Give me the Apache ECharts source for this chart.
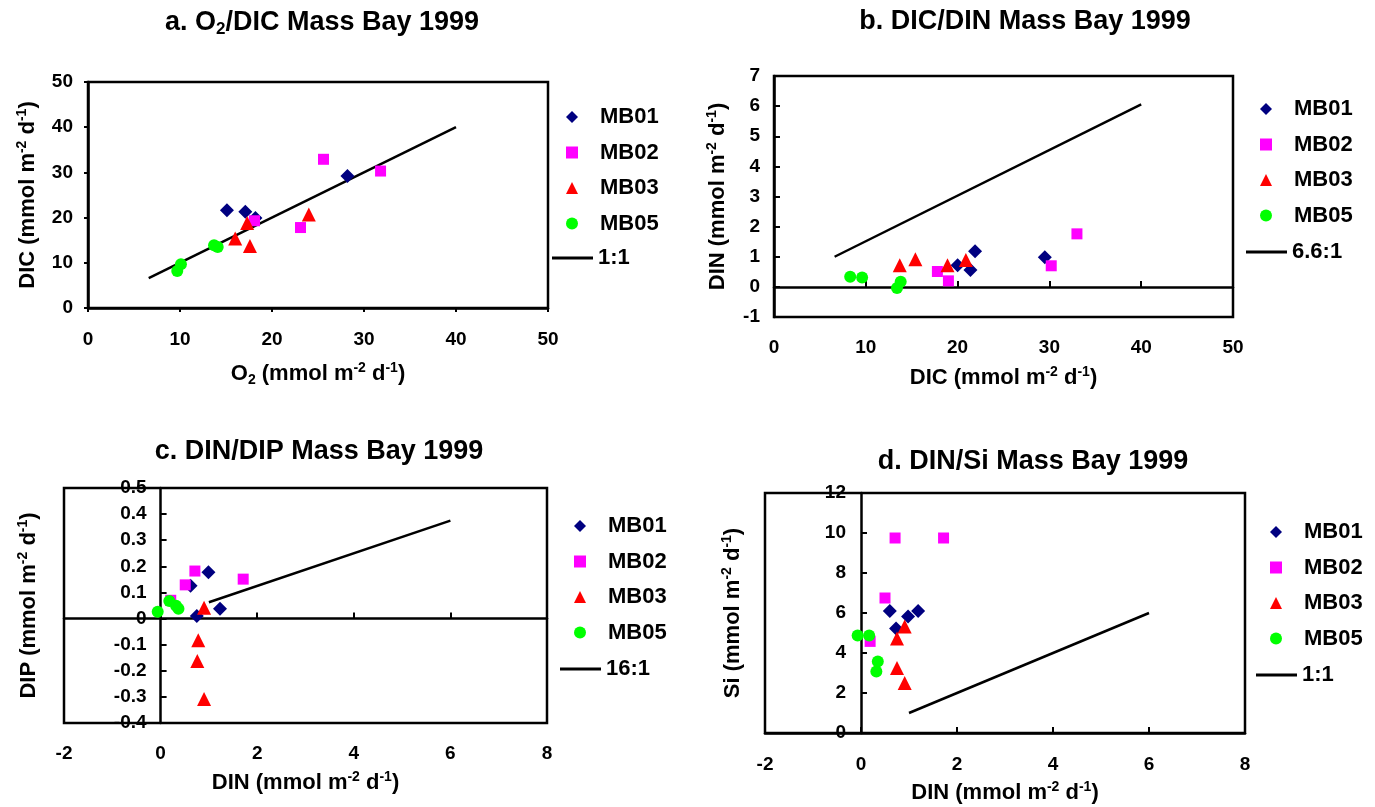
<!DOCTYPE html>
<html>
<head>
<meta charset="utf-8">
<title>Mass Bay 1999</title>
<script src="https://cdn.jsdelivr.net/npm/echarts@6/dist/echarts.min.js"></script>
<style>
    html, body { margin: 0; padding: 0; background: #fff; }
    #chart { width: 1375px; height: 807px; }
</style>
</head>
<body>
<div id="chart"></div>
<script>
! function() {
    'use strict'

    // stations in legend order
    var stations = ['MB01', 'MB02', 'MB03', 'MB05'];

    // a. O2 (x) / DIC (y)
    var aMB01 = [[15.1, 21.6], [17.1, 21.3], [18.2, 19.9], [28.2, 29.2]];
    var aMB02 = [[25.6, 32.9], [31.8, 30.3], [23.1, 17.8], [18.1, 19.3]];
    var aMB03 = [[17.3, 18.8], [16.0, 15.4], [17.6, 13.7], [24.0, 20.7]];
    var aMB05 = [[9.7, 8.2], [10.1, 9.7], [13.7, 13.9], [14.1, 13.5]];
    var aRatio = [[6.6, 6.6], [40, 40]];          // 1:1

    // b. DIC (x) / DIN (y)
    var bMB01 = [[20.0, 0.72], [21.4, 0.56], [21.9, 1.18], [29.5, 0.98]];
    var bMB02 = [[17.8, 0.51], [19.0, 0.20], [30.2, 0.70], [33.0, 1.76]];
    var bMB03 = [[13.7, 0.72], [15.4, 0.92], [18.9, 0.72], [20.9, 0.89]];
    var bMB05 = [[8.3, 0.34], [9.6, 0.31], [13.4, -0.04], [13.8, 0.17]];
    var bRatio = [[6.6, 1.0], [40, 6.06]];         // 6.6:1

    // c. DIN (x) / DIP (y)
    var cMB01 = [[0.62, 0.126], [0.99, 0.177], [1.23, 0.038], [0.75, 0.010]];
    var cMB02 = [[0.51, 0.129], [0.71, 0.182], [1.71, 0.151], [0.21, 0.070]];
    var cMB03 = [[0.90, 0.041], [0.78, -0.083], [0.76, -0.163], [0.90, -0.308]];
    var cMB05 = [[-0.06, 0.026], [0.18, 0.067], [0.32, 0.049], [0.37, 0.038]];
    var cRatio = [[1, 0.0625], [6, 0.375]];        // 16:1

    // d. DIN (x) / Si (y)
    var dMB01 = [[0.60, 6.10], [0.73, 5.23], [0.98, 5.83], [1.19, 6.10]];
    var dMB02 = [[0.71, 9.75], [1.72, 9.75], [0.50, 6.75], [0.19, 4.58]];
    var dMB03 = [[0.91, 5.33], [0.75, 4.72], [0.75, 3.25], [0.91, 2.50]];
    var dMB05 = [[-0.07, 4.88], [0.17, 4.88], [0.35, 3.58], [0.32, 3.08]];
    var dRatio = [[1, 1], [6, 6]];                 // 1:1

    var FONT = '"Liberation Sans", Arial, sans-serif';

    var markerStyle = {
        MB01: { symbol: 'diamond', size: 14, color: '#000080' },
        MB02: { symbol: 'rect', size: 11, color: '#FF00FF' },
        MB03: { symbol: 'triangle', size: 14, color: '#FF0000' },
        MB05: { symbol: 'circle', size: 12, color: '#00FF00' }
    };

    // plot frames: left, top, width, height
    var frames = [
        [88, 82, 460, 226],
        [774, 76, 459, 241],
        [64, 488, 483, 235],
        [765, 493, 480, 240]
    ];

    var nameRich = {
        n: { fontSize: 22, fontWeight: 'bold', fontFamily: FONT, lineHeight: 26, color: '#000' },
        sup: { fontSize: 14, fontWeight: 'bold', fontFamily: FONT, lineHeight: 14, verticalAlign: 'top', color: '#000' },
        sub: { fontSize: 14, fontWeight: 'bold', fontFamily: FONT, lineHeight: 14, verticalAlign: 'bottom', color: '#000' }
    };

    function unitName(label) {
        return '{n|' + label + ' (mmol m}{sup|-2}{n| d}{sup|-1}{n|)}';
    }

    // value axis, o: grid, min, max, step, pos, line, onZero, offset, ticks, tickIn, labels, margin, name, gap
    function axis(o) {
        return {
            type: 'value',
            gridIndex: o.grid,
            position: o.pos,
            offset: o.offset || 0,
            min: o.min,
            max: o.max,
            interval: o.step,
            splitLine: { show: false },
            axisLine: {
                show: o.line !== false,
                onZero: !!o.onZero,
                lineStyle: { color: '#000', width: 2.5 }
            },
            axisTick: {
                show: o.ticks !== false,
                inside: o.tickIn !== false,
                length: o.tickIn === false ? 4 : 6,
                lineStyle: { color: '#000', width: 2 }
            },
            axisLabel: {
                show: o.labels !== false,
                margin: o.margin || 15,
                color: '#000',
                fontSize: 19,
                fontWeight: 'bold',
                fontFamily: FONT,
                showMinLabel: true,
                showMaxLabel: true
            },
            name: o.name || '',
            nameLocation: 'middle',
            nameGap: o.gap || 0,
            nameMoveOverlap: false,
            nameTextStyle: { rich: nameRich }
        };
    }

    // y axis drawn at x = 0 of a panel whose x range is [xMin, xMax]
    function zeroOffset(gridIndex, xMin, xMax) {
        return -(0 - xMin) / (xMax - xMin) * frames[gridIndex][2];
    }

    function scatter(name, data, xi, yi) {
        var s = markerStyle[name];
        return {
            type: 'scatter',
            name: name,
            data: data,
            xAxisIndex: xi,
            yAxisIndex: yi,
            symbol: s.symbol,
            symbolSize: s.size,
            itemStyle: { color: s.color, opacity: 1 },
            z: 3
        };
    }

    function ratioLine(name, data, xi, yi) {
        return {
            type: 'line',
            name: name,
            data: data,
            xAxisIndex: xi,
            yAxisIndex: yi,
            symbol: 'none',
            lineStyle: { color: '#000', width: 2.5 },
            itemStyle: { color: '#000' },
            z: 2
        };
    }

    function panelSeries(list, ratioName, ratio, xi, yi) {
        var out = [ratioLine(ratioName, ratio, xi, yi)];
        for (var i = 0; i < stations.length; i++) {
            out.push(scatter(stations[i], list[i], xi, yi));
        }
        return out;
    }

    var legendText = { fontSize: 22, fontWeight: 'bold', fontFamily: FONT, color: '#000', lineHeight: 22 };

    function markerLegend(left, top) {
        return {
            data: stations,
            orient: 'vertical',
            left: left,
            top: top,
            padding: 0,
            itemWidth: 12,
            itemHeight: 12,
            itemGap: 13.5,
            selectedMode: false,
            textStyle: Object.assign({ padding: [0, 0, 0, 17] }, legendText)
        };
    }

    function lineLegend(name, left, top) {
        return {
            data: [{ name: name, icon: 'rect' }],
            left: left,
            top: top,
            padding: 0,
            itemWidth: 41,
            itemHeight: 3,
            symbolKeepAspect: false,
            selectedMode: false,
            textStyle: legendText
        };
    }

    var titleStyle = {
        fontSize: 27, fontWeight: 'bold', fontFamily: FONT, color: '#000', lineHeight: 30,
        rich: {
            t: { fontSize: 27, fontWeight: 'bold', fontFamily: FONT, color: '#000', lineHeight: 30 },
            ts: { fontSize: 17, fontWeight: 'bold', fontFamily: FONT, color: '#000', lineHeight: 17, verticalAlign: 'bottom' }
        }
    };

    function title(text, left, top) {
        return { text: text, left: left, top: top, textAlign: 'center', padding: 0, textStyle: titleStyle };
    }

    function frame(f) {
        return {
            left: f[0], top: f[1], width: f[2], height: f[3],
            show: true, borderColor: '#000', borderWidth: 2.5,
            backgroundColor: 'transparent',
            outerBoundsMode: 'none'
        };
    }

    var option = {
        animation: false,
        backgroundColor: '#fff',
        title: [
            title('{t|a. O}{ts|2}{t|/DIC Mass Bay 1999}', 322, 8),
            title('{t|b. DIC/DIN Mass Bay 1999}', 1025, 7),
            title('{t|c. DIN/DIP Mass Bay 1999}', 319, 437),
            title('{t|d. DIN/Si Mass Bay 1999}', 1033, 447)
        ],
        grid: frames.map(frame),
        legend: [
            markerLegend(566, 106), lineLegend('1:1', 552, 247),
            markerLegend(1260, 98), lineLegend('6.6:1', 1246, 241),
            markerLegend(574, 515), lineLegend('16:1', 560, 658),
            markerLegend(1270, 521), lineLegend('1:1 ', 1256, 664)
        ],
        xAxis: [
            axis({ grid: 0, pos: 'bottom', min: 0, max: 50, step: 10, tickIn: false, margin: 22,
                name: '{n|O}{sub|2}{n| (mmol m}{sup|-2}{n| d}{sup|-1}{n|)}', gap: 53 }),
            axis({ grid: 1, pos: 'bottom', min: 0, max: 50, step: 10, line: false, ticks: false, margin: 21,
                name: unitName('DIC'), gap: 48 }),
            axis({ grid: 1, pos: 'bottom', min: 0, max: 50, step: 10, onZero: true, labels: false }),
            axis({ grid: 2, pos: 'bottom', min: -2, max: 8, step: 2, line: false, ticks: false, margin: 21,
                name: unitName('DIN'), gap: 47 }),
            axis({ grid: 2, pos: 'bottom', min: -2, max: 8, step: 2, onZero: true, labels: false }),
            axis({ grid: 3, pos: 'bottom', min: -2, max: 8, step: 2, margin: 22,
                name: unitName('DIN'), gap: 47 })
        ],
        yAxis: [
            axis({ grid: 0, pos: 'left', min: 0, max: 50, step: 10, tickIn: false, margin: 15,
                name: unitName('DIC'), gap: 47 }),
            axis({ grid: 1, pos: 'left', min: -1, max: 7, step: 1, margin: 14,
                name: unitName('DIN'), gap: 43 }),
            axis({ grid: 2, pos: 'left', min: -0.4, max: 0.5, step: 0.1, offset: zeroOffset(2, -2, 8), margin: 14 }),
            axis({ grid: 2, pos: 'left', min: -0.4, max: 0.5, step: 0.1, line: false, ticks: false, labels: false,
                name: unitName('DIP'), gap: 22 }),
            axis({ grid: 3, pos: 'left', min: 0, max: 12, step: 2, offset: zeroOffset(3, -2, 8), margin: 15 }),
            axis({ grid: 3, pos: 'left', min: 0, max: 12, step: 2, line: false, ticks: false, labels: false,
                name: unitName('Si'), gap: 19 })
        ],
        series: [].concat(
            panelSeries([aMB01, aMB02, aMB03, aMB05], '1:1', aRatio, 0, 0),
            panelSeries([bMB01, bMB02, bMB03, bMB05], '6.6:1', bRatio, 1, 1),
            panelSeries([cMB01, cMB02, cMB03, cMB05], '16:1', cRatio, 3, 2),
            panelSeries([dMB01, dMB02, dMB03, dMB05], '1:1 ', dRatio, 5, 4)
        )
    };

    var chart = echarts.init(document.getElementById('chart'));
    chart.setOption(option);
}()
</script>
</body>
</html>
